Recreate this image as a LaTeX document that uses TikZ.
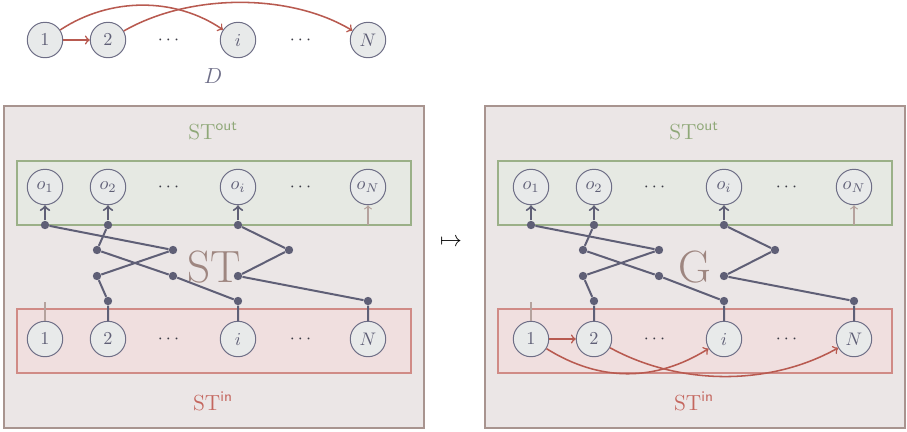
\documentclass[tikz,border=0pt]{standalone}
\usepackage{amsmath}
\definecolor{nodefill}{HTML}{E8EAEA}
\definecolor{nodeline}{HTML}{6E6E86}
\definecolor{wire}{HTML}{5F5F76}
\definecolor{redarr}{HTML}{B85A50}
\definecolor{faint}{HTML}{B5A29D}
\definecolor{panelfill}{HTML}{EBE6E6}
\definecolor{panelline}{HTML}{A8948F}
\definecolor{greenfill}{HTML}{E6E9E3}
\definecolor{greenline}{HTML}{9BB088}
\definecolor{redfill}{HTML}{F0DFDF}
\definecolor{redline}{HTML}{D08B86}
\definecolor{greentext}{HTML}{8FA878}
\definecolor{redtext}{HTML}{C4665E}
\definecolor{bigtext}{HTML}{9E8680}
\definecolor{dtext}{HTML}{6E6E88}
\definecolor{dotstext}{HTML}{3A3A44}
\tikzset{
  var/.style={circle, draw=nodeline, fill=nodefill, line width=0.55pt, minimum size=19.5pt, inner sep=0pt, text=wire},
  dotsnode/.style={text=dotstext, inner sep=0pt},
  jdot/.style={circle, fill=wire, inner sep=0pt, minimum size=4.6pt},
  wireline/.style={draw=wire, line width=1.1pt},
  outarrow/.style={draw=wire, line width=1.1pt, ->},
  faintline/.style={draw=faint, line width=0.65pt},
  faintarrow/.style={draw=faint, line width=0.65pt, ->},
  redarrow/.style={draw=redarr, line width=0.85pt, ->},
  panel/.style={draw=panelline, fill=panelfill, line width=0.6pt},
  outbox/.style={draw=greenline, fill=greenfill, line width=0.6pt},
  inbox/.style={draw=redline, fill=redfill, line width=0.6pt},
  lbl/.style={inner sep=0pt, font=\large},
  biglbl/.style={inner sep=0pt, font=\Huge, text=bigtext},
}
\newcommand\stpanel[5]{%
  \begin{scope}[shift={(#3,0)}]
    \path[panel] (4,106) rectangle (424,428);
    \path[outbox] (17,161) rectangle (411,225);
    \path[inbox] (17,309) rectangle (411,373);
    \node[lbl, text=greentext] (#1lo) at (213,131) {$\mathrm{ST}^{\textsf{out}}$};
    \node[lbl, text=redtext] (#1li) at (213,401) {$\mathrm{ST}^{\textsf{in}}$};
    \node[biglbl] (#1big) at (#4) {#2};
  \end{scope}
  \begin{scope}[shift={(#5,0)}]
    % output nodes
    \node[var] (#1o1) at (45,187) {$o_1$};
    \node[var] (#1o2) at (108,187) {$o_2$};
    \node[dotsnode] (#1od1) at (170,187) {$\cdots$};
    \node[var] (#1oi) at (238,187) {$o_i$};
    \node[dotsnode] (#1od2) at (302,187) {$\cdots$};
    \node[var] (#1oN) at (368,187) {$o_N$};
    % input nodes
    \node[var] (#1i1) at (45,339) {$1$};
    \node[var] (#1i2) at (108,339) {$2$};
    \node[dotsnode] (#1id1) at (170,339) {$\cdots$};
    \node[var] (#1ii) at (238,339) {$i$};
    \node[dotsnode] (#1id2) at (302,339) {$\cdots$};
    \node[var] (#1iN) at (368,339) {$N$};
    % junctions
    \node[jdot] (#1a1) at (45,225) {};
    \node[jdot] (#1a2) at (108,225) {};
    \node[jdot] (#1a3) at (238,225) {};
    \node[jdot] (#1b1) at (97,250) {};
    \node[jdot] (#1b2) at (173,250) {};
    \node[jdot] (#1b3) at (289,250) {};
    \node[jdot] (#1c1) at (97,276) {};
    \node[jdot] (#1c2) at (173,276) {};
    \node[jdot] (#1c3) at (238,276) {};
    \node[jdot] (#1d1) at (108,301) {};
    \node[jdot] (#1d2) at (238,301) {};
    \node[jdot] (#1d3) at (368,301) {};
    \coordinate (#1fN) at (368,225);
    \coordinate (#1f1) at (45,302);
    % wires
    \draw[outarrow] (#1a1) -- (#1o1);
    \draw[outarrow] (#1a2) -- (#1o2);
    \draw[outarrow] (#1a3) -- (#1oi);
    \draw[faintarrow] (#1fN) -- (#1oN);
    \draw[faintline] (#1f1) -- (#1i1);
    \draw[wireline] (#1a1) -- (#1b2) -- (#1c1) -- (#1d1) -- (#1i2);
    \draw[wireline] (#1a2) -- (#1b1) -- (#1c2) -- (#1d2) -- (#1ii);
    \draw[wireline] (#1a3) -- (#1b3) -- (#1c3) -- (#1d3) -- (#1iN);
  \end{scope}}
\begin{document}
\begin{tikzpicture}[x=0.55pt, y=-0.55pt]
  \useasboundingbox (0,0) rectangle (907,431);
  % top graph D
  \node[var] (t1) at (45,40) {$1$};
  \node[var] (t2) at (108,40) {$2$};
  \node[dotsnode] (td1) at (170,40) {$\cdots$};
  \node[var] (ti) at (238,40) {$i$};
  \node[dotsnode] (td2) at (302,40) {$\cdots$};
  \node[var] (tN) at (368,40) {$N$};
  \node[lbl, text=dtext] (Dlbl) at (213,76) {$D$};
  \draw[redarrow] (t1) -- (t2);
  \draw[redarrow] (t1) .. controls (110,-3) and (175,-3) .. (ti);
  \draw[redarrow] (t2) .. controls (190,-7) and (290,-7) .. (tN);
  % left panel
  \stpanel{L}{ST}{0}{214,267}{0}
  % map arrow
  \node[inner sep=0pt, font=\large] (map) at (451,242) {$\mapsto$};
  % right panel
  \stpanel{R}{G}{481}{214,267}{486}
  \draw[redarrow] (Ri1) -- (Ri2);
  \draw[redarrow] (Ri1) .. controls (600,382) and (655,382) .. (Rii);
  \draw[redarrow] (Ri2) .. controls (680,386) and (770,386) .. (RiN);
\end{tikzpicture}
\end{document}
